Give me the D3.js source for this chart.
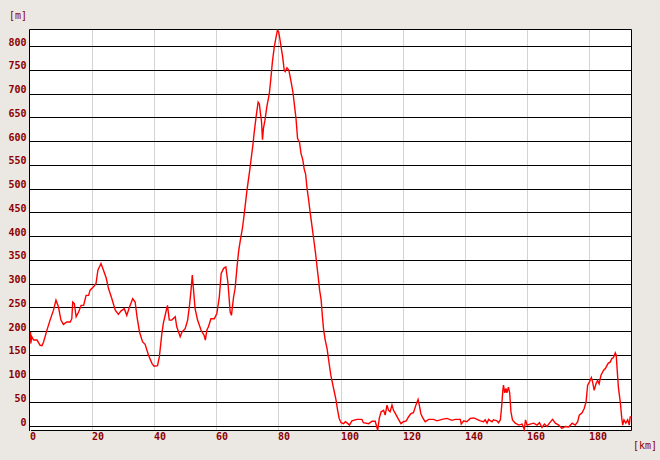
<!DOCTYPE html>
<html><head><meta charset="utf-8">
<script src="https://cdn.jsdelivr.net/npm/d3@7"></script>
<style>
html,body{margin:0;padding:0;background:#ebe8e4;}
svg{display:block;}
</style></head>
<body>
<svg id="c" width="660" height="460"></svg>
<script>
// distance along route [km]
const distKm = [0.0,0.1,0.4,1.0,2.1,3.1,3.7,4.2,5.3,6.3,7.4,8.2,9.0,9.8,10.6,11.7,12.8,13.3,13.6,14.1,14.7,15.5,16.3,17.1,17.9,18.7,19.2,20.3,21.1,21.7,22.7,23.5,24.4,25.1,26.2,27.3,28.3,29.1,30.2,31.0,31.8,32.9,33.7,34.3,35.1,36.1,36.9,38.0,39.1,39.8,40.9,41.5,42.3,42.8,43.6,44.1,44.7,45.5,46.6,47.1,48.2,48.8,49.8,50.6,51.2,51.7,52.1,52.5,53.0,53.8,54.9,55.9,56.3,56.8,57.3,58.1,59.2,60.0,60.8,61.4,62.2,62.9,63.6,64.3,64.7,65.4,65.9,66.5,67.0,67.5,68.3,68.9,69.7,70.5,71.0,71.6,72.0,72.7,73.3,73.7,74.0,74.4,74.7,75.0,75.5,76.1,76.9,77.4,77.9,78.5,79.0,79.5,79.9,80.2,80.6,81.2,81.7,82.0,82.6,83.2,83.9,84.5,85.0,85.5,86.0,86.6,87.1,87.7,88.1,88.6,89.0,89.5,90.1,90.6,91.1,91.8,92.2,92.7,93.1,93.6,94.0,94.4,94.9,95.5,96.0,96.7,97.6,98.4,98.9,99.4,100.0,100.8,101.4,102.2,102.7,103.5,105.1,106.7,107.2,108.9,110.0,111.0,111.8,112.3,112.9,113.7,114.2,114.8,115.3,115.8,116.4,116.9,117.5,118.5,119.3,120.1,121.0,121.7,122.5,123.3,124.1,124.8,125.2,125.7,126.4,127.1,128.2,129.8,130.9,132.5,134.1,135.7,136.8,138.4,138.7,139.5,140.5,141.6,142.7,143.8,144.8,145.9,146.4,147.0,147.5,148.6,149.1,150.2,150.7,151.3,151.7,152.1,152.3,152.7,153.1,153.4,153.9,154.3,154.7,155.2,156.1,157.2,158.3,159.0,159.4,159.9,160.9,162.0,163.1,163.9,164.7,165.5,166.3,167.1,168.1,169.0,170.1,171.1,172.2,173.3,174.4,175.4,176.2,176.7,177.6,178.3,178.9,179.4,180.0,180.6,181.0,181.5,182.1,182.6,183.1,183.7,184.5,185.1,186.0,186.7,187.2,187.7,188.3,188.6,189.0,189.3,189.9,190.4,190.7,191.1,191.7,192.3,192.8,193.1,193.5];
// elevation [m]
const elevM = [199,175,189,182,182,171,170,178,203,224,245,266,252,224,215,220,220,227,262,259,231,241,255,255,276,276,287,294,301,329,343,329,312,291,269,245,236,243,248,234,250,269,262,231,199,178,173,150,133,127,128,147,196,218,241,255,224,224,231,210,189,199,206,224,255,287,319,287,248,224,203,192,182,203,210,227,227,238,273,322,333,336,301,241,234,273,291,336,368,389,420,452,497,535,561,592,617,655,683,679,662,641,604,627,645,673,701,733,768,799,817,834,831,820,803,778,750,747,755,750,726,704,676,648,606,599,575,561,543,531,504,480,448,424,399,364,340,312,287,266,231,203,182,164,140,108,80,55,34,17,8,6,10,6,3,12,15,15,8,6,11,11,-8,17,31,34,24,45,34,31,45,34,27,15,6,10,12,20,27,29,45,57,45,27,17,10,15,15,12,15,17,13,15,15,5,12,10,17,18,15,12,10,14,7,15,10,14,12,8,14,41,76,87,71,80,71,83,71,31,14,7,3,5,-6,14,3,5,7,3,8,-2,5,0,7,15,7,3,-4,0,-1,7,3,10,24,29,38,52,87,94,103,94,76,90,97,90,108,118,122,133,136,143,145,155,150,111,83,52,17,3,14,7,14,3,20,20];
const yTicks = [0,50,100,150,200,250,300,350,400,450,500,550,600,650,700,750,800];
const xTicks = [0,20,40,60,80,100,120,140,160,180];
const yUnit = "[m]";
const xUnit = "[km]";

const svg = d3.select("#c");
const x = d3.scaleLinear().domain([0,180]).range([30.5,589.5]);
const y = d3.scaleLinear().domain([0,800]).range([426.5,46.5]);
const L = 29.5, R = 631.5, T = 29.5, B = 430.5;
const labCol = "#8b0000";
const font = "'DejaVu Sans Mono', monospace";

// plot background
svg.append("rect").attr("x",L).attr("y",T).attr("width",R-L).attr("height",B-T).attr("fill","#fff");

// vertical grid (light gray)
svg.append("g").selectAll("line").data(xTicks.filter(d=>d>0)).join("line")
  .attr("x1",d=>Math.round(x(d)-0.5)+0.5).attr("x2",d=>Math.round(x(d)-0.5)+0.5)
  .attr("y1",T).attr("y2",B).attr("stroke","#d3d3d3").attr("stroke-width",1);

// horizontal grid (black)
svg.append("g").selectAll("line").data(yTicks).join("line")
  .attr("x1",L).attr("x2",R)
  .attr("y1",d=>Math.round(y(d)-0.5)+0.5).attr("y2",d=>Math.round(y(d)-0.5)+0.5)
  .attr("stroke","#000").attr("stroke-width",1);

// frame
svg.append("line").attr("x1",L).attr("x2",R).attr("y1",T).attr("y2",T).attr("stroke","#000");
svg.append("line").attr("x1",R).attr("x2",R).attr("y1",T).attr("y2",B).attr("stroke","#000");
svg.append("line").attr("x1",L).attr("x2",L).attr("y1",T).attr("y2",B+0.5).attr("stroke","#000");
svg.append("line").attr("x1",L+1.5).attr("x2",R).attr("y1",B).attr("y2",B).attr("stroke","#000");

// profile
const pts = distKm.map((d,i)=>[d,elevM[i]]);
svg.append("path").datum(pts)
  .attr("d", d3.line().x(d=>x(d[0])).y(d=>y(d[1])))
  .attr("fill","none").attr("stroke","#ff0000").attr("stroke-width",1.4)
  .attr("stroke-linejoin","miter");

// y labels
svg.append("g").selectAll("text").data(yTicks).join("text")
  .attr("x",26.5).attr("y",d=>Math.round(y(d))-1)
  .attr("text-anchor","end")
  .attr("font-family",font).attr("font-weight","bold").attr("font-size",10)
  .attr("fill",labCol).text(d=>d);

// x labels
svg.append("g").selectAll("text").data(xTicks).join("text")
  .attr("x",d=>Math.round(x(d)-0.5)).attr("y",440)
  .attr("text-anchor","start")
  .attr("font-family",font).attr("font-weight","bold").attr("font-size",10)
  .attr("fill",labCol).text(d=>d);

// units
svg.append("text").attr("x",9).attr("y",18.5)
  .attr("font-family",font).attr("font-size",10).attr("fill",labCol).text(yUnit);
svg.append("text").attr("x",633).attr("y",448.5)
  .attr("font-family",font).attr("font-size",10).attr("fill",labCol).text(xUnit);
</script>
</body></html>
